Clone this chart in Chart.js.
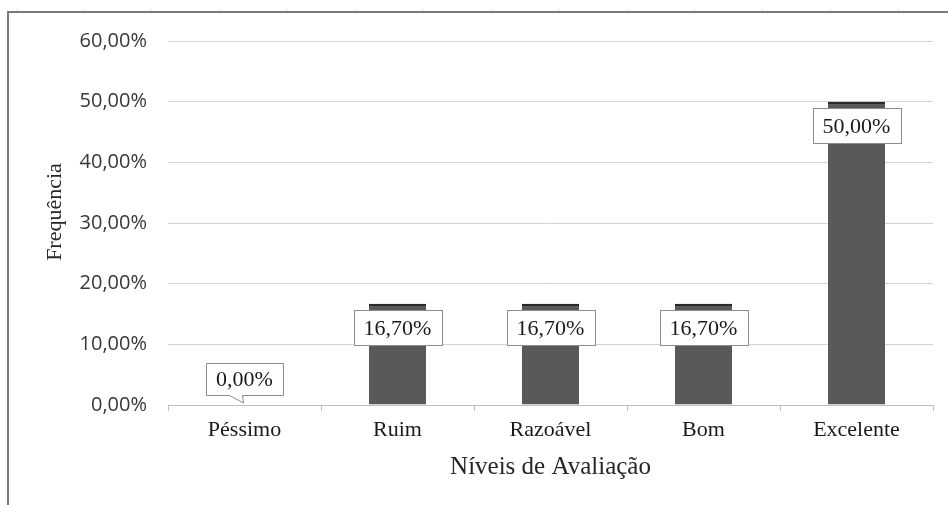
<!DOCTYPE html>
<html>
<head>
    <meta charset="utf-8">
    <script src="https://cdn.jsdelivr.net/npm/chart.js"></script>
    <style>
        html, body { margin: 0; padding: 0; background: #fff; }
        canvas { display: block; }
    </style>
</head>
<body>
    <canvas id="myChart" width="948" height="505"></canvas>

    <script>
        // Níveis de avaliação e frequência (%) de cada um
        var niveis = ['Péssimo', 'Ruim', 'Razoável', 'Bom', 'Excelente'];
        var frequencia = [0.00, 16.70, 16.70, 16.70, 50.00];
        var yTicks = [0, 10, 20, 30, 40, 50, 60];

        var tituloX = 'Níveis de Avaliação';
        var tituloY = 'Frequência';

        function pct(v) {
            return v.toFixed(2).replace('.', ',') + '%';
        }

        var serif = '"Liberation Serif", "Times New Roman", serif';

        // Moldura, títulos dos eixos e rótulos de valor
        var extras = {
            id: 'extras',
            beforeDraw: function(chart) {
                var c = chart.ctx;
                c.save();
                c.fillStyle = '#fff';
                c.fillRect(0, 0, chart.width, chart.height);
                // pequenas marcas acima da linha superior
                c.strokeStyle = '#e4e4e4';
                c.lineWidth = 1;
                for (var x = 15.5; x < chart.width; x += 67.9) {
                    c.beginPath();
                    c.moveTo(Math.round(x) + 0.5, 9);
                    c.lineTo(Math.round(x) + 0.5, 11);
                    c.stroke();
                }
                c.strokeStyle = '#7a7a7a';
                c.lineWidth = 2;
                c.beginPath();
                c.moveTo(chart.width, 12);
                c.lineTo(8, 12);
                c.lineTo(8, chart.height);
                c.stroke();
                c.restore();
            },
            afterDraw: function(chart) {
                var c = chart.ctx;
                var area = chart.chartArea;
                c.save();
                c.fillStyle = '#262626';
                c.textAlign = 'center';
                c.textBaseline = 'middle';
                c.font = '25px ' + serif;
                c.fillText(tituloX, (area.left + area.right) / 2, 467);
                c.translate(55, 212);
                c.rotate(-Math.PI / 2);
                c.font = '22px ' + serif;
                c.fillText(tituloY, 0, 0);
                c.restore();

                var meta = chart.getDatasetMeta(0);
                c.save();
                c.font = '22px ' + serif;
                c.textAlign = 'center';
                c.textBaseline = 'middle';
                meta.data.forEach(function(bar, i) {
                    var txt = pct(frequencia[i]);
                    var w = c.measureText(txt).width;
                    c.fillStyle = '#fff';
                    c.strokeStyle = '#8c8c8c';
                    c.lineWidth = 1;
                    if (frequencia[i] === 0) {
                        // balão com ponteiro para a barra vazia
                        var bw = Math.round(w + 20), bh = 32;
                        var bx = Math.round(bar.x - bw / 2) + 0.5;
                        var by = Math.round(bar.y - 10 - bh) + 0.5;
                        c.beginPath();
                        c.moveTo(bx, by);
                        c.lineTo(bx + bw, by);
                        c.lineTo(bx + bw, by + bh);
                        c.lineTo(bar.x - 2, by + bh);
                        c.lineTo(bar.x - 1, bar.y - 2);
                        c.lineTo(bar.x - 15, by + bh);
                        c.lineTo(bx, by + bh);
                        c.closePath();
                        c.fill();
                        c.stroke();
                        c.fillStyle = '#1a1a1a';
                        c.fillText(txt, bar.x, by + bh / 2 + 1);
                    } else {
                        var bw2 = Math.round(w + 20), bh2 = 35;
                        var bx2 = Math.round(bar.x - bw2 / 2) + 0.5;
                        var by2 = Math.round(bar.y + 6) + 0.5;
                        c.fillRect(bx2, by2, bw2, bh2);
                        c.strokeRect(bx2, by2, bw2, bh2);
                        c.fillStyle = '#1a1a1a';
                        c.fillText(txt, bar.x, by2 + bh2 / 2 + 1);
                    }
                });
                c.restore();
            }
        };

        var ctx = document.getElementById('myChart').getContext('2d');
        var chart = new Chart(ctx, {
            type: 'bar',
            data: {
                labels: niveis,
                datasets: [{
                    data: frequencia,
                    backgroundColor: '#595959',
                    borderColor: '#2a2a2a',
                    borderWidth: { top: 3, left: 0, right: 0, bottom: 0 },
                    borderSkipped: 'bottom',
                    categoryPercentage: 1,
                    barPercentage: 0.373
                }]
            },
            options: {
                responsive: false,
                animation: false,
                layout: { padding: { top: 41, right: 15, left: 0, bottom: 0 } },
                plugins: {
                    legend: { display: false },
                    tooltip: { enabled: false }
                },
                scales: {
                    x: {
                        afterFit: function(s) { s.height = 100; },
                        grid: {
                            offset: true,
                            drawOnChartArea: false,
                            drawTicks: true,
                            tickLength: 6,
                            color: '#bfbfbf'
                        },
                        border: { color: '#bfbfbf', width: 1 },
                        ticks: {
                            padding: 6,
                            color: '#1a1a1a',
                            font: { family: serif, size: 22 }
                        }
                    },
                    y: {
                        min: 0,
                        max: 60,
                        afterFit: function(s) { s.width = 168; },
                        afterBuildTicks: function(s) {
                            s.ticks = yTicks.map(function(v) { return { value: v }; });
                        },
                        grid: { color: '#d3d3d3', drawTicks: false },
                        border: { display: false },
                        ticks: {
                            padding: 21,
                            color: '#383838',
                            font: { family: '"Open Sans", "Noto Sans", sans-serif', size: 20 },
                            callback: function(v) { return pct(v); }
                        }
                    }
                }
            },
            plugins: [extras]
        });
    </script>
</body>
</html>
